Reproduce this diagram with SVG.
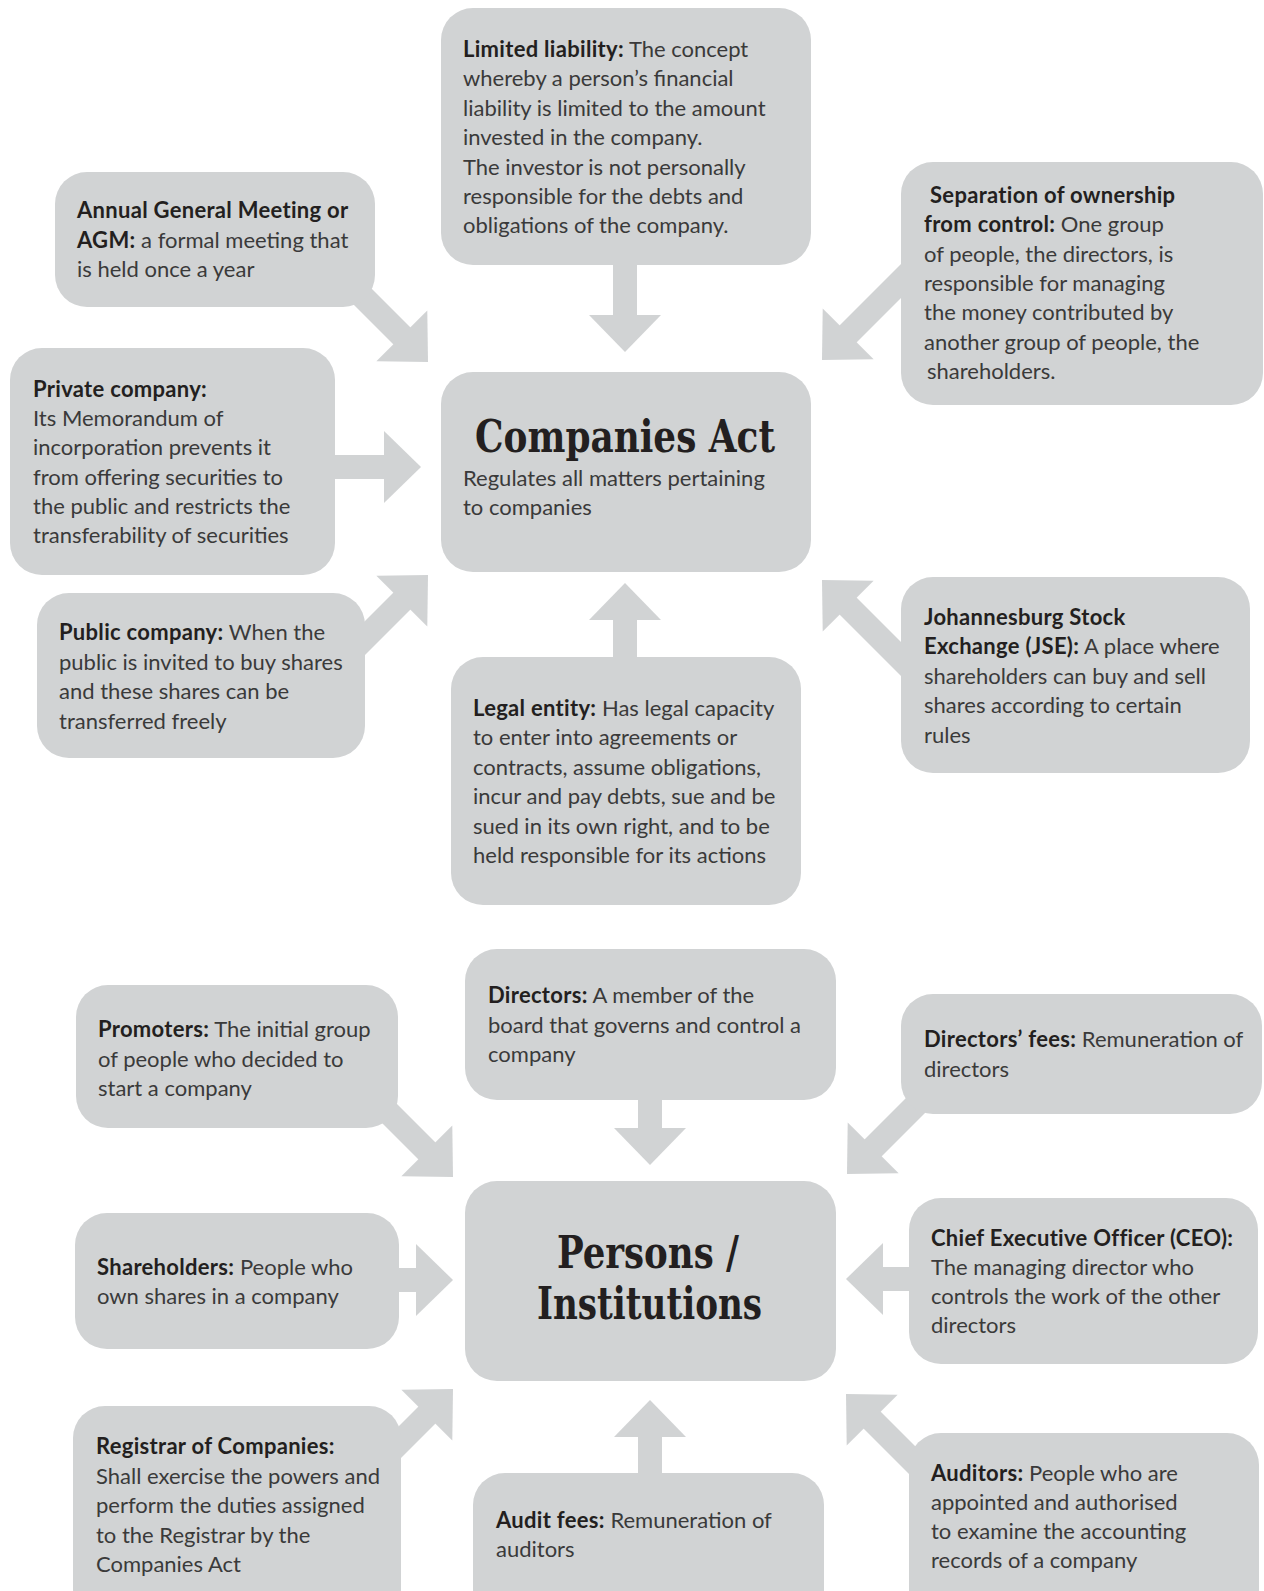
<svg xmlns="http://www.w3.org/2000/svg" xmlns:xlink="http://www.w3.org/1999/xlink" width="1264" height="1591" viewBox="0 0 1264 1591">
<style>
.box{fill:#d1d3d4}
.shaft{stroke:#d1d3d4;stroke-width:24;fill:none}
.head{fill:#d1d3d4}
.t{font-family:Lato,"Open Sans","Liberation Sans",sans-serif;font-size:22px;fill:#3a3a3a}
.b{font-weight:700;fill:#231f20;letter-spacing:0.3px}
.title{font-family:"DejaVu Serif Condensed","DejaVu Serif",serif;font-weight:700;font-size:44px;fill:#231f20}
</style>
<defs>
<polygon id="hd" points="0,0 -37,-36 -37,36"/>
</defs>
<rect width="1264" height="1591" fill="#ffffff"/>
<g id="connectors">
<line class="shaft" x1="625" y1="250" x2="625" y2="318"/><use xlink:href="#hd" class="head" transform="translate(625,352) rotate(90)"/>
<line class="shaft" x1="330" y1="264" x2="404" y2="338"/><use xlink:href="#hd" class="head" transform="translate(428,362) rotate(45)"/>
<line class="shaft" x1="320" y1="467" x2="386" y2="467"/><use xlink:href="#hd" class="head" transform="translate(421,467)"/>
<line class="shaft" x1="340" y1="663" x2="404" y2="599"/><use xlink:href="#hd" class="head" transform="translate(428,575) rotate(-45)"/>
<line class="shaft" x1="625" y1="680" x2="625" y2="618"/><use xlink:href="#hd" class="head" transform="translate(625,583) rotate(-90)"/>
<line class="shaft" x1="925" y1="257" x2="846" y2="336"/><use xlink:href="#hd" class="head" transform="translate(822,360) rotate(135)"/>
<line class="shaft" x1="925" y1="683" x2="846" y2="604"/><use xlink:href="#hd" class="head" transform="translate(822,580) rotate(-135)"/>
<line class="shaft" x1="353" y1="1077" x2="429" y2="1153"/><use xlink:href="#hd" class="head" transform="translate(453,1177) rotate(45)"/>
<line class="shaft" x1="650" y1="1090" x2="650" y2="1130"/><use xlink:href="#hd" class="head" transform="translate(650,1165) rotate(90)"/>
<line class="shaft" x1="945" y1="1076" x2="871" y2="1150"/><use xlink:href="#hd" class="head" transform="translate(847,1174) rotate(135)"/>
<line class="shaft" x1="385" y1="1280" x2="418" y2="1280"/><use xlink:href="#hd" class="head" transform="translate(453,1280)"/>
<line class="shaft" x1="920" y1="1279" x2="881" y2="1279"/><use xlink:href="#hd" class="head" transform="translate(846,1279) rotate(180)"/>
<line class="shaft" x1="370" y1="1472" x2="429" y2="1413"/><use xlink:href="#hd" class="head" transform="translate(453,1389) rotate(-45)"/>
<line class="shaft" x1="650" y1="1485" x2="650" y2="1435"/><use xlink:href="#hd" class="head" transform="translate(650,1400) rotate(-90)"/>
<line class="shaft" x1="940" y1="1488" x2="870" y2="1418"/><use xlink:href="#hd" class="head" transform="translate(846,1394) rotate(-135)"/>
</g>
<g id="limited-liability">
<rect class="box" x="441" y="8" width="370" height="257" rx="32"/>
<text class="t" x="463" y="57"><tspan class="b">Limited liability:</tspan> The concept</text>
<text class="t" x="463" y="86.4">whereby a person’s financial</text>
<text class="t" x="463" y="115.8">liability is limited to the amount</text>
<text class="t" x="463" y="145.2">invested in the company.</text>
<text class="t" x="463" y="174.6">The investor is not personally</text>
<text class="t" x="463" y="204">responsible for the debts and</text>
<text class="t" x="463" y="233.4">obligations of the company.</text>
</g>
<g id="agm">
<rect class="box" x="55" y="172" width="320" height="135" rx="32"/>
<text class="t" x="77" y="218"><tspan class="b">Annual General Meeting or</tspan></text>
<text class="t" x="77" y="247.5"><tspan class="b">AGM:</tspan> a formal meeting that</text>
<text class="t" x="77" y="277">is held once a year</text>
</g>
<g id="separation">
<rect class="box" x="901" y="162" width="362" height="243" rx="32"/>
<text class="t" x="930" y="203"><tspan class="b">Separation of ownership</tspan></text>
<text class="t" x="924" y="232.3"><tspan class="b">from control:</tspan> One group</text>
<text class="t" x="924" y="261.6">of people, the directors, is</text>
<text class="t" x="924" y="290.9">responsible for managing</text>
<text class="t" x="924" y="320.2">the money contributed by</text>
<text class="t" x="924" y="349.5">another group of people, the</text>
<text class="t" x="927" y="378.8">shareholders.</text>
</g>
<g id="private-company">
<rect class="box" x="10" y="348" width="325" height="227" rx="32"/>
<text class="t" x="33" y="397"><tspan class="b">Private company:</tspan></text>
<text class="t" x="33" y="426.2">Its Memorandum of</text>
<text class="t" x="33" y="455.4">incorporation prevents it</text>
<text class="t" x="33" y="484.6">from offering securities to</text>
<text class="t" x="33" y="513.8">the public and restricts the</text>
<text class="t" x="33" y="543">transferability of securities</text>
</g>
<g id="companies-act">
<rect class="box" x="441" y="372" width="370" height="200" rx="32"/>
<text class="title" x="475" y="452" textLength="300" lengthAdjust="spacingAndGlyphs">Companies Act</text>
<text class="t" x="463" y="486">Regulates all matters pertaining</text>
<text class="t" x="463" y="515">to companies</text>
</g>
<g id="public-company">
<rect class="box" x="37" y="593" width="328" height="165" rx="32"/>
<text class="t" x="59" y="640"><tspan class="b">Public company:</tspan> When the</text>
<text class="t" x="59" y="669.5">public is invited to buy shares</text>
<text class="t" x="59" y="699">and these shares can be</text>
<text class="t" x="59" y="728.5">transferred freely</text>
</g>
<g id="legal-entity">
<rect class="box" x="451" y="657" width="350" height="248" rx="32"/>
<text class="t" x="473" y="716"><tspan class="b">Legal entity:</tspan> Has legal capacity</text>
<text class="t" x="473" y="745.4">to enter into agreements or</text>
<text class="t" x="473" y="774.8">contracts, assume obligations,</text>
<text class="t" x="473" y="804.2">incur and pay debts, sue and be</text>
<text class="t" x="473" y="833.6">sued in its own right, and to be</text>
<text class="t" x="473" y="863">held responsible for its actions</text>
</g>
<g id="jse">
<rect class="box" x="901" y="577" width="349" height="196" rx="32"/>
<text class="t" x="924" y="625"><tspan class="b">Johannesburg Stock</tspan></text>
<text class="t" x="924" y="654.4"><tspan class="b">Exchange (JSE):</tspan> A place where</text>
<text class="t" x="924" y="683.8">shareholders can buy and sell</text>
<text class="t" x="924" y="713.2">shares according to certain</text>
<text class="t" x="924" y="742.6">rules</text>
</g>
<g id="promoters">
<rect class="box" x="76" y="985" width="322" height="143" rx="32"/>
<text class="t" x="98" y="1037"><tspan class="b">Promoters:</tspan> The initial group</text>
<text class="t" x="98" y="1066.5">of people who decided to</text>
<text class="t" x="98" y="1096">start a company</text>
</g>
<g id="directors">
<rect class="box" x="465" y="949" width="371" height="151" rx="32"/>
<text class="t" x="488" y="1003"><tspan class="b">Directors:</tspan> A member of the</text>
<text class="t" x="488" y="1032.5">board that governs and control a</text>
<text class="t" x="488" y="1062">company</text>
</g>
<g id="directors-fees">
<rect class="box" x="901" y="994" width="361" height="120" rx="32"/>
<text class="t" x="924" y="1047"><tspan class="b">Directors’ fees:</tspan> Remuneration of</text>
<text class="t" x="924" y="1077">directors</text>
</g>
<g id="shareholders">
<rect class="box" x="75" y="1213" width="324" height="136" rx="32"/>
<text class="t" x="97" y="1274.5"><tspan class="b">Shareholders:</tspan> People who</text>
<text class="t" x="97" y="1304">own shares in a company</text>
</g>
<g id="persons-institutions">
<rect class="box" x="465" y="1181" width="371" height="200" rx="32"/>
<text class="title" x="648" y="1268" text-anchor="middle" textLength="182" lengthAdjust="spacingAndGlyphs">Persons /</text>
<text class="title" x="649.5" y="1319" text-anchor="middle" textLength="225" lengthAdjust="spacingAndGlyphs">Institutions</text>
</g>
<g id="ceo">
<rect class="box" x="909" y="1198" width="349" height="166" rx="32"/>
<text class="t" x="931" y="1246"><tspan class="b">Chief Executive Officer (CEO):</tspan></text>
<text class="t" x="931" y="1275">The managing director who</text>
<text class="t" x="931" y="1304">controls the work of the other</text>
<text class="t" x="931" y="1333">directors</text>
</g>
<g id="registrar">
<rect class="box" x="73" y="1406" width="328" height="215" rx="32"/>
<text class="t" x="96" y="1454"><tspan class="b">Registrar of Companies:</tspan></text>
<text class="t" x="96" y="1483.5">Shall exercise the powers and</text>
<text class="t" x="96" y="1513">perform the duties assigned</text>
<text class="t" x="96" y="1542.5">to the Registrar by the</text>
<text class="t" x="96" y="1572">Companies Act</text>
</g>
<g id="audit-fees">
<rect class="box" x="473" y="1473" width="351" height="150" rx="32"/>
<text class="t" x="496" y="1528"><tspan class="b">Audit fees:</tspan> Remuneration of</text>
<text class="t" x="496" y="1557">auditors</text>
</g>
<g id="auditors">
<rect class="box" x="909" y="1433" width="350" height="190" rx="32"/>
<text class="t" x="931" y="1481"><tspan class="b">Auditors:</tspan> People who are</text>
<text class="t" x="931" y="1510">appointed and authorised</text>
<text class="t" x="931" y="1539">to examine the accounting</text>
<text class="t" x="931" y="1568">records of a company</text>
</g>
</svg>
